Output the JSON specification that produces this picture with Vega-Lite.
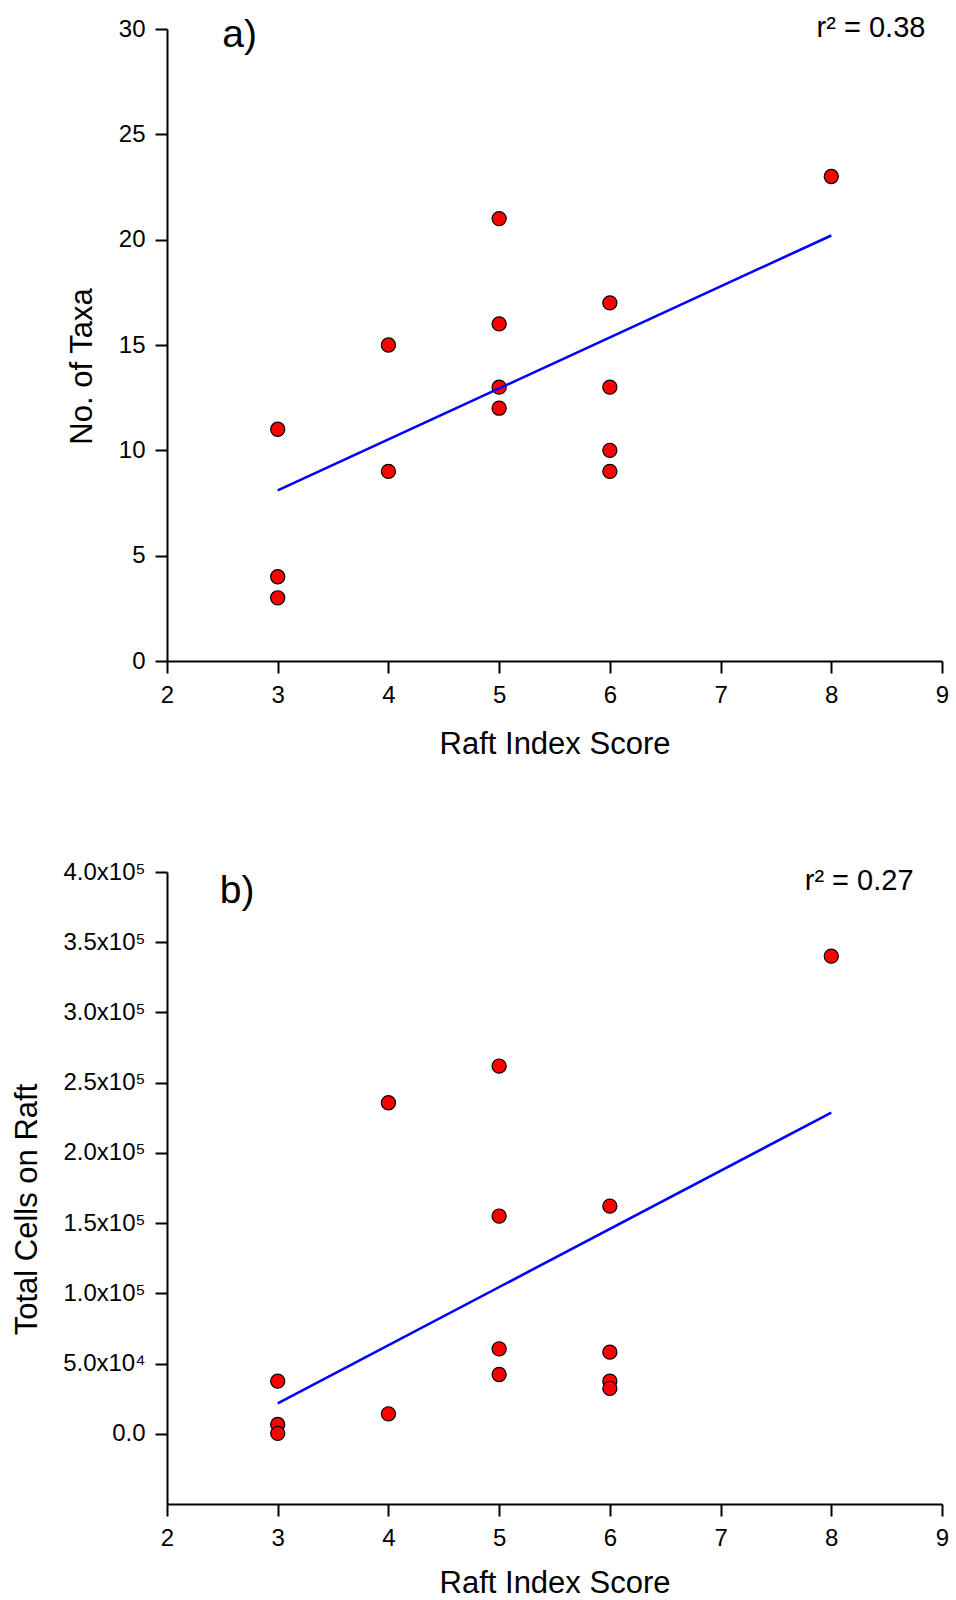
{
  "$schema": "https://vega.github.io/schema/vega-lite/v6.json",
  "padding": {"top": 13, "left": 11, "right": 5, "bottom": 0},
  "background": "white",
  "spacing": 101,
  "datasets": {
    "taxa": [
      {"score": 3, "taxa": 11}, {"score": 3, "taxa": 4}, {"score": 3, "taxa": 3},
      {"score": 4, "taxa": 15}, {"score": 4, "taxa": 9},
      {"score": 5, "taxa": 21}, {"score": 5, "taxa": 16}, {"score": 5, "taxa": 13}, {"score": 5, "taxa": 12},
      {"score": 6, "taxa": 17}, {"score": 6, "taxa": 13}, {"score": 6, "taxa": 10}, {"score": 6, "taxa": 9},
      {"score": 8, "taxa": 23}
    ],
    "taxaFit": [{"score": 3, "taxa": 8.1}, {"score": 8, "taxa": 20.2}],
    "cells": [
      {"score": 3, "cells": 37500}, {"score": 3, "cells": 6600}, {"score": 3, "cells": 300},
      {"score": 4, "cells": 235700}, {"score": 4, "cells": 14200},
      {"score": 5, "cells": 261800}, {"score": 5, "cells": 155000}, {"score": 5, "cells": 60500}, {"score": 5, "cells": 42200},
      {"score": 6, "cells": 162100}, {"score": 6, "cells": 58100}, {"score": 6, "cells": 37500}, {"score": 6, "cells": 32300},
      {"score": 8, "cells": 340100}
    ],
    "cellsFit": [{"score": 3, "cells": 21700}, {"score": 8, "cells": 228600}]
  },
  "config": {
    "view": {"stroke": null},
    "font": "Liberation Sans",
    "axis": {
      "grid": false,
      "domainColor": "black",
      "domainWidth": 2,
      "tickColor": "black",
      "tickWidth": 2,
      "tickSize": 12,
      "labelFont": "Liberation Sans",
      "labelFontSize": 24,
      "labelColor": "black",
      "titleFont": "Liberation Sans",
      "titleFontSize": 31,
      "titleFontWeight": "normal",
      "titleColor": "black"
    },
    "axisX": {"labelPadding": 10, "titlePadding": 22, "labelFlush": false},
    "axisY": {"labelPadding": 10, "titlePadding": 19.5, "titleY": 337}
  },
  "vconcat": [
    {
      "width": 775,
      "height": 632,
      "layer": [
        {
          "data": {"name": "taxa"},
          "mark": {"type": "point", "shape": "circle", "filled": true, "fill": "#ff0000", "stroke": "black", "strokeWidth": 1.2, "size": 200, "opacity": 1},
          "encoding": {
            "x": {"field": "score", "type": "quantitative", "scale": {"domain": [2, 9], "nice": false, "zero": false},
                  "axis": {"title": "Raft Index Score", "values": [2, 3, 4, 5, 6, 7, 8, 9], "format": "d"}},
            "y": {"field": "taxa", "type": "quantitative", "scale": {"domain": [0, 30], "nice": false},
                  "axis": {"title": "No. of Taxa", "values": [0, 5, 10, 15, 20, 25, 30], "format": "d"}}
          }
        },
        {
          "data": {"name": "taxaFit"},
          "mark": {"type": "line", "color": "#0000ff", "strokeWidth": 2.6},
          "encoding": {
            "x": {"field": "score", "type": "quantitative"},
            "y": {"field": "taxa", "type": "quantitative"}
          }
        },
        {
          "data": {"values": [{"label": "a)"}]},
          "mark": {"type": "text", "align": "left", "baseline": "alphabetic", "fontSize": 39, "color": "black"},
          "encoding": {"text": {"field": "label"}, "x": {"datum": 2.5}, "y": {"datum": 29.16}}
        },
        {
          "data": {"values": [{"label": "r² = 0.38"}]},
          "mark": {"type": "text", "align": "right", "baseline": "alphabetic", "fontSize": 29, "color": "black"},
          "encoding": {"text": {"field": "label"}, "x": {"datum": 8.85}, "y": {"datum": 29.64}}
        }
      ]
    },
    {
      "width": 775,
      "height": 632,
      "layer": [
        {
          "data": {"name": "cells"},
          "mark": {"type": "point", "shape": "circle", "filled": true, "fill": "#ff0000", "stroke": "black", "strokeWidth": 1.2, "size": 200, "opacity": 1},
          "encoding": {
            "x": {"field": "score", "type": "quantitative", "scale": {"domain": [2, 9], "nice": false, "zero": false},
                  "axis": {"title": "Raft Index Score", "values": [2, 3, 4, 5, 6, 7, 8, 9], "format": "d", "titlePadding": 18}},
            "y": {"field": "cells", "type": "quantitative", "scale": {"domain": [-50000, 400000], "nice": false, "zero": false},
                  "axis": {"title": "Total Cells on Raft", "values": [0, 50000, 100000, 150000, 200000, 250000, 300000, 350000, 400000],
                           "labelExpr": "datum.value == 0 ? '0.0' : datum.value < 100000 ? format(datum.value / 10000, '.1f') + 'x10⁴' : format(datum.value / 100000, '.1f') + 'x10⁵'"}}
          }
        },
        {
          "data": {"name": "cellsFit"},
          "mark": {"type": "line", "color": "#0000ff", "strokeWidth": 2.6},
          "encoding": {
            "x": {"field": "score", "type": "quantitative"},
            "y": {"field": "cells", "type": "quantitative"}
          }
        },
        {
          "data": {"values": [{"label": "b)"}]},
          "mark": {"type": "text", "align": "left", "baseline": "alphabetic", "fontSize": 39, "color": "black"},
          "encoding": {"text": {"field": "label"}, "x": {"datum": 2.477}, "y": {"datum": 378100}}
        },
        {
          "data": {"values": [{"label": "r² = 0.27"}]},
          "mark": {"type": "text", "align": "right", "baseline": "alphabetic", "fontSize": 29, "color": "black"},
          "encoding": {"text": {"field": "label"}, "x": {"datum": 8.743}, "y": {"datum": 387100}}
        }
      ]
    }
  ]
}
